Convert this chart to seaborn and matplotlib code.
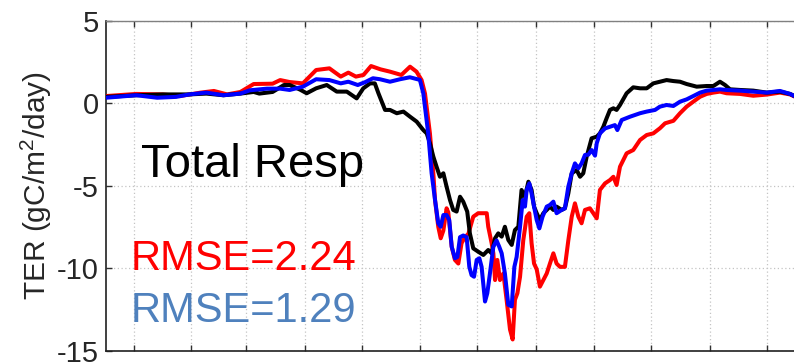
import matplotlib
matplotlib.use("Agg")
import matplotlib.pyplot as plt
import seaborn as sns
import pandas as pd

# Daily total ecosystem respiration (day of year, gC/m2/day)
black_day = [0, 16, 30, 44, 53, 62, 71, 78, 81, 88, 94, 97, 102.5, 106, 111, 116.6, 121.9, 127.2,
             132.4, 135.9, 139.5, 142, 143.9, 147.4, 150, 153.6, 157.1, 160.6, 164.1, 167.6, 169.4,
             171.1, 172.9, 174.6, 176.4, 178.2, 179.9, 181.7, 183.4, 185.2, 187.0, 188.7, 190.8,
             192.2, 194.0, 196.6, 199.3, 201.9, 203.7, 205.5, 207.2, 209.0, 210.7, 212.5, 214.3,
             216.0, 217.8, 219.5, 221.3, 223.1, 224.8, 226.1, 227.5, 229.2, 231.0, 232.8, 234.5,
             236.3, 238.0, 240.7, 242.4, 244.2, 246.0, 248.6, 250.4, 252.1, 253.9, 256.5, 259.2,
             260.9, 262.7, 264.4, 266.2, 268.0, 269.7, 271.5, 275.0, 278.5, 282.1, 285.6, 289.1,
             292.6, 296.1, 299.7, 303.2, 306.7, 312.0, 317.3, 320.8, 324.3, 327.0, 329.6, 334.9,
             341.9, 349.0, 356.0, 361.3, 365]
black_ter = [0.40, 0.50, 0.55, 0.55, 0.60, 0.50, 0.60, 0.70, 0.60, 0.70, 1.12, 1.12, 0.84, 0.62,
             0.92, 1.12, 0.72, 0.72, 0.31, 0.92, 1.22, 1.22, 0.62, -0.39, -0.39, -0.59, -0.49,
             -0.80, -1.10, -1.61, -1.81, -2.41, -3.22, -3.83, -4.44, -4.23, -5.04, -5.85, -6.45,
             -6.55, -5.65, -5.95, -6.55, -7.87, -8.78, -8.98, -9.18, -8.88, -9.08, -8.17, -7.87,
             -8.07, -7.47, -8.27, -8.57, -7.67, -7.47, -5.24, -5.65, -4.74, -5.24, -6.25, -6.65,
             -7.06, -6.65, -6.45, -6.25, -6.45, -6.25, -6.45, -6.35, -5.45, -4.23, -4.03, -4.44,
             -4.23, -3.22, -2.11, -2.01, -1.81, -1.41, -0.90, -0.39, -0.29, -0.39, -0.09, 0.62,
             0.98, 0.92, 0.92, 1.22, 1.32, 1.42, 1.36, 1.32, 1.18, 1.02, 1.06, 1.06, 1.32, 1.12,
             0.86, 0.82, 0.78, 0.66, 0.72, 0.58, 0.38]

red_day = [0, 16, 30, 39, 50, 57, 64, 71, 78, 88, 92, 97, 104, 111, 118, 124, 128, 132, 136, 140,
           145, 150, 156, 160.6, 164, 166.7, 168.5, 171.1, 172.9, 173.8, 175.5, 176.8, 178.2, 179.9,
           180.8, 182.6, 184.3, 186.1, 187.8, 189.6, 191.4, 194.0, 196.6, 201.1, 201.9, 203.7,
           204.6, 205.5, 206.7, 208.1, 209.9, 211.6, 213.4, 214.8, 216.0, 217.3, 218.7, 220.4,
           222.2, 223.6, 224.8, 226.1, 227.5, 229.2, 231.0, 232.8, 234.5, 236.3, 238.0, 239.8,
           242.4, 244.2, 246.0, 247.7, 249.5, 251.2, 253.0, 255.6, 257.4, 259.2, 260.9, 263.6,
           266.2, 268.0, 269.7, 271.5, 275.0, 278.5, 282.1, 285.6, 289.1, 292.6, 295.3, 299.7,
           303.2, 306.7, 310.2, 313.8, 317.3, 320.8, 324.3, 327.8, 334.9, 341.9, 349.0, 356.0,
           361.3, 365]
red_ter = [0.45, 0.58, 0.55, 0.45, 0.66, 0.76, 0.55, 0.70, 1.18, 1.20, 1.42, 1.30, 1.22, 2.03,
           2.13, 1.63, 1.87, 1.63, 1.73, 2.27, 2.07, 1.93, 1.73, 2.23, 1.93, 1.42, 0.60, -1.81,
           -4.23, -5.85, -7.47, -8.17, -7.70, -6.35, -6.60, -8.68, -9.48, -9.70, -8.47, -8.10,
           -7.90, -6.86, -6.65, -6.65, -7.47, -8.47, -9.08, -10.7, -9.48, -10.7, -10.3, -11.9,
           -13.7, -14.3, -11.9, -11.5, -10.5, -8.30, -6.86, -6.65, -8.47, -9.70, -10.05, -11.1,
           -10.7, -10.3, -9.70, -9.08, -9.70, -9.90, -9.90, -8.30, -6.86, -6.05, -6.86, -7.26,
           -6.45, -6.35, -6.65, -6.96, -5.24, -4.84, -4.64, -4.44, -4.94, -3.83, -3.02, -2.82,
           -2.21, -1.91, -1.81, -1.50, -1.20, -1.05, -0.59, -0.19, 0.11, 0.41, 0.58, 0.66, 0.72,
           0.62, 0.58, 0.47, 0.54, 0.66, 0.55, 0.35]

blue_day = [0, 16, 27, 37, 44, 53, 62, 71, 76, 85, 92, 97, 104, 111, 118, 124, 128, 133, 137, 141,
            144.7, 150.0, 155.3, 160.5, 165.8, 167.6, 170.2, 172.0, 173.8, 175.5, 176.8, 178.2,
            179.9, 181.3, 182.6, 184.3, 185.6, 187.0, 188.7, 190.5, 191.9, 193.1, 194.4, 195.8,
            197.2, 198.4, 200.2, 201.4, 202.8, 204.6, 206.3, 207.7, 209.0, 210.7, 212.5, 214.3,
            215.7, 216.9, 218.7, 220.1, 221.3, 222.2, 223.6, 224.8, 226.1, 227.5, 228.9, 230.6,
            232.8, 234.5, 236.3, 238.0, 240.7, 242.4, 244.2, 246.0, 247.7, 249.5, 251.2, 253.0,
            254.8, 256.5, 258.3, 259.2, 260.9, 263.6, 266.2, 268.8, 270.1, 272.4, 276.8, 282.1,
            285.6, 290.0, 292.6, 296.1, 299.7, 303.2, 306.7, 310.2, 313.8, 317.3, 320.8, 324.3,
            327.8, 334.9, 341.9, 349.0, 356.0, 361.3, 365]
blue_ter = [0.35, 0.50, 0.35, 0.40, 0.55, 0.66, 0.50, 0.60, 0.80, 0.90, 0.90, 0.82, 1.02, 1.47,
            1.42, 1.22, 1.32, 1.12, 1.30, 1.53, 1.47, 1.32, 1.47, 1.59, 1.43, 0.62, -1.81, -4.23,
            -5.85, -7.26, -7.47, -6.76, -6.76, -7.06, -8.68, -9.38, -9.30, -8.10, -8.00, -8.10,
            -9.90, -10.4, -10.5, -9.48, -9.38, -9.90, -12.0, -11.5, -10.3, -8.68, -8.30, -8.68,
            -9.08, -10.3, -12.2, -12.3, -9.90, -9.30, -7.47, -5.85, -6.25, -5.24, -4.84, -5.45,
            -6.25, -7.06, -7.57, -6.86, -6.25, -6.15, -5.95, -6.65, -6.45, -6.35, -5.04, -4.23,
            -3.63, -3.93, -3.63, -3.12, -3.10, -2.82, -3.16, -2.41, -1.81, -1.51, -1.41, -1.31,
            -1.61, -1.00, -0.80, -0.59, -0.49, -0.39, -0.19, -0.09, -0.15, 0.11, 0.25, 0.45, 0.66,
            0.78, 0.82, 0.86, 0.82, 0.78, 0.72, 0.66, 0.76, 0.58, 0.38]

month_mid_days = [15, 45, 74, 105, 135, 166, 196, 227, 258, 288, 319, 349]
y_ticks = [-15, -10, -5, 0, 5]
y_label = "TER (gC/m$^2$/day)"
title_text = "Total Resp"
rmse_red_text = "RMSE=2.24"
rmse_blue_text = "RMSE=1.29"

sns.set_style("white")
plt.rcParams["font.family"] = ["Liberation Sans", "DejaVu Sans"]
plt.rcParams["mathtext.fontset"] = "custom"
plt.rcParams["mathtext.rm"] = "Liberation Sans"
plt.rcParams["mathtext.it"] = "Liberation Sans"

fig = plt.figure(figsize=(7.94, 3.62), dpi=100)
ax = fig.add_axes([0.1335, 0.0304, 0.8703, 0.9116])

series = [
    (red_day, red_ter, "#ff0000"),
    (black_day, black_ter, "#000000"),
    (blue_day, blue_ter, "#0000ff"),
]
for days, ter, col in series:
    df = pd.DataFrame({"day": days, "ter": ter})
    sns.lineplot(data=df, x="day", y="ter", color=col, linewidth=2.9,
                 estimator=None, sort=False, ax=ax, zorder=3)

ax.set_xlim(0, 365)
ax.set_ylim(-15, 5)
ax.set_xticks(month_mid_days)
ax.set_xticklabels([])
ax.set_yticks(y_ticks)
ax.set_yticklabels([str(v) for v in y_ticks], fontsize=21)
ax.set_xlabel("")
ax.set_ylabel(y_label, fontsize=21.5, labelpad=2)

ax.grid(True, linestyle=(0, (1, 2)), color="#c4c4c4", linewidth=0.9)
ax.tick_params(axis="both", direction="in", length=4, width=1, color="#303030", pad=5)
ax.tick_params(axis="x", top=True, bottom=True)
ax.tick_params(axis="y", left=True, right=False)

for side in ["left", "bottom"]:
    ax.spines[side].set_color("#202020")
    ax.spines[side].set_linewidth(1.2)
ax.spines["top"].set_color("#808080")
ax.spines["top"].set_linewidth(1.0)
ax.spines["right"].set_visible(False)

ax.text(0.05, 0.527, title_text, transform=ax.transAxes, fontsize=34, color="black")
ax.text(0.035, 0.245, rmse_red_text, transform=ax.transAxes, fontsize=30, color="#ff0000")
ax.text(0.035, 0.088, rmse_blue_text, transform=ax.transAxes, fontsize=30, color="#4f81bd")

fig.savefig("out.png", dpi=100)
